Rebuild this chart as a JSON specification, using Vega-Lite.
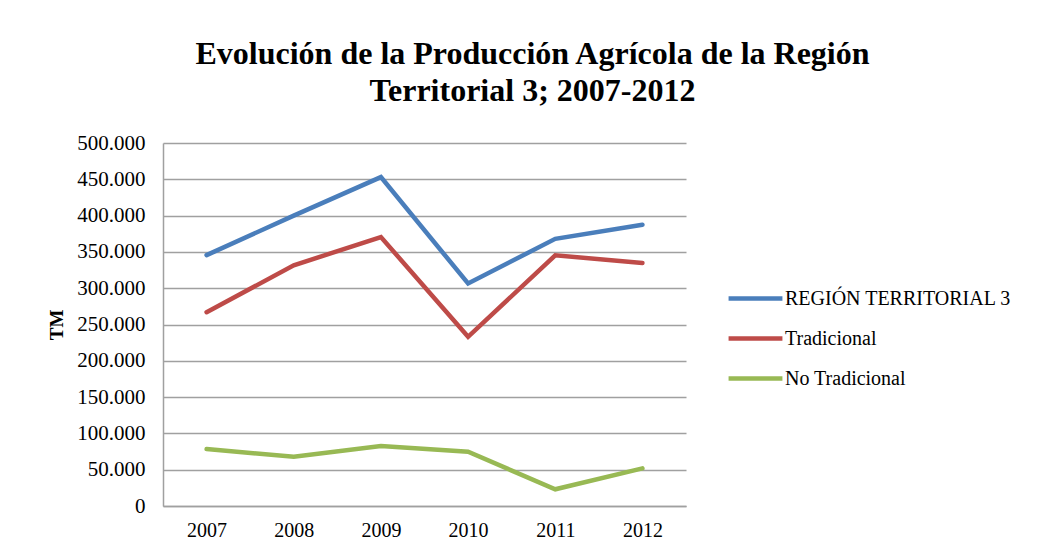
{
  "$schema": "https://vega.github.io/schema/vega-lite/v6.json",
  "autosize": "none",
  "width": 523,
  "height": 363,
  "padding": {"left": 163, "top": 143, "right": 355, "bottom": 47},
  "background": "white",
  "config": {
    "locale": {"number": {"decimal": ",", "thousands": ".", "grouping": [3], "currency": ["", ""]}},
    "view": {"stroke": null},
    "font": "Liberation Serif",
    "legend": {"labelFont": "Liberation Serif"}
  },
  "title": {
    "text": ["Evolución de la Producción Agrícola de la Región", "Territorial 3; 2007-2012"],
    "font": "Liberation Serif",
    "fontSize": 32,
    "fontWeight": "bold",
    "color": "black",
    "lineHeight": 37,
    "anchor": "middle",
    "frame": "group",
    "dx": 108,
    "offset": 24
  },
  "data": {
    "values": [
      {"year": "2007", "serie": "REGIÓN TERRITORIAL 3", "tm": 345500},
      {"year": "2008", "serie": "REGIÓN TERRITORIAL 3", "tm": 400000},
      {"year": "2009", "serie": "REGIÓN TERRITORIAL 3", "tm": 453000},
      {"year": "2010", "serie": "REGIÓN TERRITORIAL 3", "tm": 306500},
      {"year": "2011", "serie": "REGIÓN TERRITORIAL 3", "tm": 368000},
      {"year": "2012", "serie": "REGIÓN TERRITORIAL 3", "tm": 387500},
      {"year": "2007", "serie": "Tradicional", "tm": 267000},
      {"year": "2008", "serie": "Tradicional", "tm": 331500},
      {"year": "2009", "serie": "Tradicional", "tm": 370500},
      {"year": "2010", "serie": "Tradicional", "tm": 233000},
      {"year": "2011", "serie": "Tradicional", "tm": 345300},
      {"year": "2012", "serie": "Tradicional", "tm": 334700},
      {"year": "2007", "serie": "No Tradicional", "tm": 78400},
      {"year": "2008", "serie": "No Tradicional", "tm": 67800},
      {"year": "2009", "serie": "No Tradicional", "tm": 82500},
      {"year": "2010", "serie": "No Tradicional", "tm": 74700},
      {"year": "2011", "serie": "No Tradicional", "tm": 23000},
      {"year": "2012", "serie": "No Tradicional", "tm": 51800}
    ]
  },
  "mark": {"type": "line", "strokeWidth": 4.5, "strokeCap": "round", "strokeJoin": "miter"},
  "encoding": {
    "x": {
      "field": "year",
      "type": "ordinal",
      "scale": {"type": "point", "padding": 0.5},
      "axis": {
        "title": null,
        "labelAngle": 0,
        "labelFont": "Liberation Serif",
        "labelFontSize": 20,
        "labelColor": "black",
        "labelPadding": 14,
        "ticks": false,
        "domainColor": "#a0a0a0",
        "domainWidth": 1.5,
        "grid": false
      }
    },
    "y": {
      "field": "tm",
      "type": "quantitative",
      "scale": {"domain": [0, 500000], "nice": false},
      "axis": {
        "title": "TM",
        "titleFont": "Liberation Serif",
        "titleFontSize": 19,
        "titleFontWeight": "bold",
        "titleColor": "black",
        "titlePadding": 10,
        "values": [0, 50000, 100000, 150000, 200000, 250000, 300000, 350000, 400000, 450000, 500000],
        "format": ",d",
        "labelFont": "Liberation Serif",
        "labelFontSize": 21,
        "labelColor": "black",
        "labelPadding": 18,
        "ticks": false,
        "domainColor": "#a0a0a0",
        "domainWidth": 1.5,
        "gridColor": "#a0a0a0",
        "gridWidth": 1.5
      }
    },
    "color": {
      "field": "serie",
      "type": "nominal",
      "sort": ["REGIÓN TERRITORIAL 3", "Tradicional", "No Tradicional"],
      "scale": {
        "domain": ["REGIÓN TERRITORIAL 3", "Tradicional", "No Tradicional"],
        "range": ["#4A7EBB", "#BE4B48", "#98B954"]
      },
      "legend": {
        "title": null,
        "orient": "none",
        "legendX": 563,
        "legendY": 126,
        "symbolType": "stroke",
        "symbolSize": 2900,
        "symbolStrokeWidth": 4.5,
        "labelFont": "Liberation Serif",
        "labelFontSize": 20,
        "labelColor": "black",
        "labelOffset": 0,
        "rowPadding": 0,
        "labelLimit": 400
      }
    }
  }
}
